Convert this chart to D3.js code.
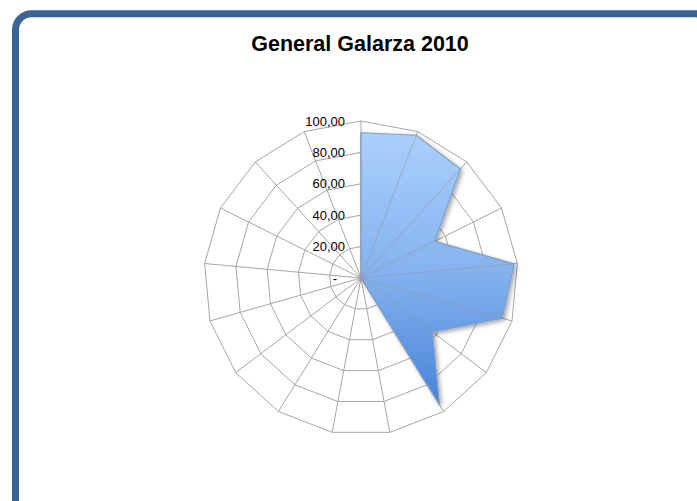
<!DOCTYPE html>
<html>
<head>
<meta charset="utf-8">
<script src="https://cdn.jsdelivr.net/npm/d3@7"></script>
<style>
  html, body { margin: 0; padding: 0; background: #fff; }
  svg { display: block; }
</style>
</head>
<body>
<svg id="chart" width="697" height="501"></svg>
<script>
// Radar series: 17 spokes clockwise from the top
const categories = ["1","2","3","4","5","6","7","8","9","10","11","12","13","14","15","16","17"];
const values = [92.5, 97.5, 94, 52.5, 98, 93.5, 57, 95, 0, 0, 0, 0, 0, 0, 0, 0, 0];
const tickValues = [0, 20, 40, 60, 80, 100];
const title = "General Galarza 2010";

const svg = d3.select("#chart");
const cx = 361, cy = 278, R = 157;

// Outer frame
svg.append("rect")
  .attr("x", 15.5).attr("y", 13.8)
  .attr("width", 696).attr("height", 502)
  .attr("rx", 16).attr("ry", 16)
  .attr("fill", "#fff")
  .attr("stroke", "#3b6395")
  .attr("stroke-width", 7);

svg.append("text")
  .attr("x", 360).attr("y", 51)
  .attr("text-anchor", "middle")
  .attr("font-family", "Liberation Sans, Arial, sans-serif")
  .attr("font-weight", "bold")
  .attr("font-size", 21.5)
  .attr("fill", "#000")
  .text(title);

const defs = svg.append("defs");
const grad = defs.append("linearGradient")
  .attr("id", "fillGrad").attr("x1", 0).attr("y1", 0).attr("x2", 0).attr("y2", 1);
grad.append("stop").attr("offset", "0%").attr("stop-color", "#aad0fc");
grad.append("stop").attr("offset", "50%").attr("stop-color", "#86b3ef");
grad.append("stop").attr("offset", "100%").attr("stop-color", "#4684d8");

const shadow = defs.append("filter").attr("id", "shadow")
  .attr("x", "-20%").attr("y", "-20%").attr("width", "140%").attr("height", "140%");
shadow.append("feDropShadow")
  .attr("dx", 2).attr("dy", 2).attr("stdDeviation", 2)
  .attr("flood-color", "#000").attr("flood-opacity", 0.35);

const n = categories.length;
const angle = d3.scaleLinear().domain([0, n]).range([0, 2 * Math.PI]);
const r = d3.scaleLinear().domain([0, 100]).range([0, R]);

const g = svg.append("g").attr("transform", `translate(${cx},${cy})`);
const pt = (i, v) => [Math.sin(angle(i)) * r(v), -Math.cos(angle(i)) * r(v)];

// Grid rings
tickValues.filter(t => t > 0).forEach(t => {
  g.append("path")
    .attr("d", d3.line()(categories.map((c, i) => pt(i, t))) + "Z")
    .attr("fill", "none")
    .attr("stroke", "#a6a6a6")
    .attr("stroke-width", 1);
});

// Spokes
g.selectAll("line.spoke").data(categories).enter().append("line")
  .attr("class", "spoke")
  .attr("x1", 0).attr("y1", 0)
  .attr("x2", (c, i) => pt(i, 100)[0])
  .attr("y2", (c, i) => pt(i, 100)[1])
  .attr("stroke", "#a6a6a6")
  .attr("stroke-width", 1);

// Filled series
g.append("path")
  .attr("d", d3.line()(values.map((v, i) => pt(i, v))) + "Z")
  .attr("fill", "url(#fillGrad)")
  .attr("stroke", "#7f9fc8")
  .attr("stroke-width", 1.2)
  .attr("stroke-linejoin", "miter")
  .attr("filter", "url(#shadow)");

// Spokes visible over the fill
g.selectAll("line.spoke2").data(categories).enter().append("line")
  .attr("x1", 0).attr("y1", 0)
  .attr("x2", (c, i) => pt(i, Math.min(values[i], 100))[0])
  .attr("y2", (c, i) => pt(i, Math.min(values[i], 100))[1])
  .attr("stroke", "#8e9aaa")
  .attr("stroke-opacity", 0.6)
  .attr("stroke-width", 1);

// Value axis along the top spoke
const locale = d3.formatLocale({ decimal: ",", thousands: ".", grouping: [3], currency: ["", ""] });
const fmt = locale.format(".2f");
const yAxis = d3.scaleLinear().domain([0, 100]).range([0, -R]);
const axis = d3.axisLeft(yAxis)
  .tickValues(tickValues)
  .tickSize(0)
  .tickPadding(16)
  .tickFormat(d => d === 0 ? "-" : fmt(d));
const ax = g.append("g").call(axis);
ax.select(".domain").remove();
ax.selectAll("text")
  .attr("font-family", "Liberation Sans, Arial, sans-serif")
  .attr("font-size", 13)
  .attr("fill", "#000");
ax.selectAll(".tick").filter(d => d === 0).select("text").attr("dx", -8);
</script>
</body>
</html>
